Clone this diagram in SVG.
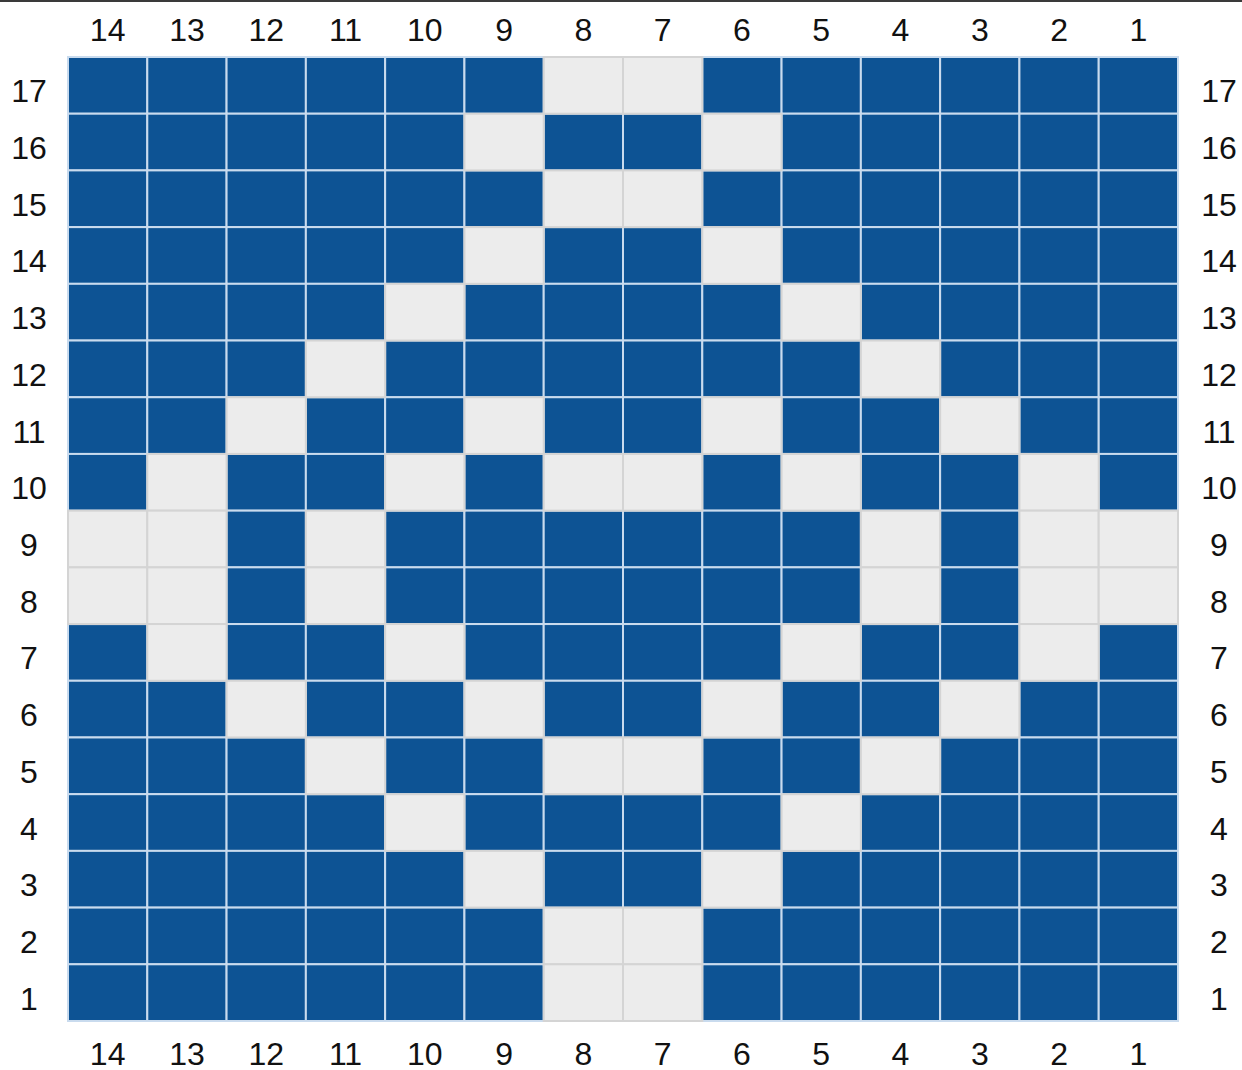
<svg xmlns="http://www.w3.org/2000/svg" xmlns:xlink="http://www.w3.org/1999/xlink" width="1242" height="1070" viewBox="0 0 1242 1070">
<style>
.b{fill:#0d5394;stroke:#c9dbee;stroke-width:2}
.l{fill:#ececec;stroke:#d4d4d4;stroke-width:2}
text{font-family:"Liberation Sans",Arial,Helvetica,sans-serif;font-size:32px;fill:#111;text-anchor:middle}
</style>
<defs>
<rect id="B" class="b" width="79.29" height="56.71"/>
<rect id="L" class="l" width="79.29" height="56.71"/>
</defs>
<rect x="0" y="0" width="1242" height="1070" fill="#ffffff"/>
<rect x="0" y="0" width="1242" height="2" fill="#3a3a3a"/>
<g id="grid">
<rect x="68" y="57" width="1110" height="964" fill="#0d5394"/>
<g id="blue-cells">
<g id="r17b" transform="translate(0,57)"><use href="#B" x="68"/><use href="#B" x="147.29"/><use href="#B" x="226.57"/><use href="#B" x="305.86"/><use href="#B" x="385.14"/><use href="#B" x="464.43"/><use href="#B" x="702.29"/><use href="#B" x="781.57"/><use href="#B" x="860.86"/><use href="#B" x="940.14"/><use href="#B" x="1019.43"/><use href="#B" x="1098.71"/></g>
<g id="r16b" transform="translate(0,113.71)"><use href="#B" x="68"/><use href="#B" x="147.29"/><use href="#B" x="226.57"/><use href="#B" x="305.86"/><use href="#B" x="385.14"/><use href="#B" x="543.71"/><use href="#B" x="623"/><use href="#B" x="781.57"/><use href="#B" x="860.86"/><use href="#B" x="940.14"/><use href="#B" x="1019.43"/><use href="#B" x="1098.71"/></g>
<g id="r15b" transform="translate(0,170.41)"><use href="#B" x="68"/><use href="#B" x="147.29"/><use href="#B" x="226.57"/><use href="#B" x="305.86"/><use href="#B" x="385.14"/><use href="#B" x="464.43"/><use href="#B" x="702.29"/><use href="#B" x="781.57"/><use href="#B" x="860.86"/><use href="#B" x="940.14"/><use href="#B" x="1019.43"/><use href="#B" x="1098.71"/></g>
<g id="r14b" transform="translate(0,227.12)"><use href="#B" x="68"/><use href="#B" x="147.29"/><use href="#B" x="226.57"/><use href="#B" x="305.86"/><use href="#B" x="385.14"/><use href="#B" x="543.71"/><use href="#B" x="623"/><use href="#B" x="781.57"/><use href="#B" x="860.86"/><use href="#B" x="940.14"/><use href="#B" x="1019.43"/><use href="#B" x="1098.71"/></g>
<g id="r13b" transform="translate(0,283.82)"><use href="#B" x="68"/><use href="#B" x="147.29"/><use href="#B" x="226.57"/><use href="#B" x="305.86"/><use href="#B" x="464.43"/><use href="#B" x="543.71"/><use href="#B" x="623"/><use href="#B" x="702.29"/><use href="#B" x="860.86"/><use href="#B" x="940.14"/><use href="#B" x="1019.43"/><use href="#B" x="1098.71"/></g>
<g id="r12b" transform="translate(0,340.53)"><use href="#B" x="68"/><use href="#B" x="147.29"/><use href="#B" x="226.57"/><use href="#B" x="385.14"/><use href="#B" x="464.43"/><use href="#B" x="543.71"/><use href="#B" x="623"/><use href="#B" x="702.29"/><use href="#B" x="781.57"/><use href="#B" x="940.14"/><use href="#B" x="1019.43"/><use href="#B" x="1098.71"/></g>
<g id="r11b" transform="translate(0,397.24)"><use href="#B" x="68"/><use href="#B" x="147.29"/><use href="#B" x="305.86"/><use href="#B" x="385.14"/><use href="#B" x="543.71"/><use href="#B" x="623"/><use href="#B" x="781.57"/><use href="#B" x="860.86"/><use href="#B" x="1019.43"/><use href="#B" x="1098.71"/></g>
<g id="r10b" transform="translate(0,453.94)"><use href="#B" x="68"/><use href="#B" x="226.57"/><use href="#B" x="305.86"/><use href="#B" x="464.43"/><use href="#B" x="702.29"/><use href="#B" x="860.86"/><use href="#B" x="940.14"/><use href="#B" x="1098.71"/></g>
<g id="r9b" transform="translate(0,510.65)"><use href="#B" x="226.57"/><use href="#B" x="385.14"/><use href="#B" x="464.43"/><use href="#B" x="543.71"/><use href="#B" x="623"/><use href="#B" x="702.29"/><use href="#B" x="781.57"/><use href="#B" x="940.14"/></g>
<g id="r8b" transform="translate(0,567.35)"><use href="#B" x="226.57"/><use href="#B" x="385.14"/><use href="#B" x="464.43"/><use href="#B" x="543.71"/><use href="#B" x="623"/><use href="#B" x="702.29"/><use href="#B" x="781.57"/><use href="#B" x="940.14"/></g>
<g id="r7b" transform="translate(0,624.06)"><use href="#B" x="68"/><use href="#B" x="226.57"/><use href="#B" x="305.86"/><use href="#B" x="464.43"/><use href="#B" x="543.71"/><use href="#B" x="623"/><use href="#B" x="702.29"/><use href="#B" x="860.86"/><use href="#B" x="940.14"/><use href="#B" x="1098.71"/></g>
<g id="r6b" transform="translate(0,680.76)"><use href="#B" x="68"/><use href="#B" x="147.29"/><use href="#B" x="305.86"/><use href="#B" x="385.14"/><use href="#B" x="543.71"/><use href="#B" x="623"/><use href="#B" x="781.57"/><use href="#B" x="860.86"/><use href="#B" x="1019.43"/><use href="#B" x="1098.71"/></g>
<g id="r5b" transform="translate(0,737.47)"><use href="#B" x="68"/><use href="#B" x="147.29"/><use href="#B" x="226.57"/><use href="#B" x="385.14"/><use href="#B" x="464.43"/><use href="#B" x="702.29"/><use href="#B" x="781.57"/><use href="#B" x="940.14"/><use href="#B" x="1019.43"/><use href="#B" x="1098.71"/></g>
<g id="r4b" transform="translate(0,794.18)"><use href="#B" x="68"/><use href="#B" x="147.29"/><use href="#B" x="226.57"/><use href="#B" x="305.86"/><use href="#B" x="464.43"/><use href="#B" x="543.71"/><use href="#B" x="623"/><use href="#B" x="702.29"/><use href="#B" x="860.86"/><use href="#B" x="940.14"/><use href="#B" x="1019.43"/><use href="#B" x="1098.71"/></g>
<g id="r3b" transform="translate(0,850.88)"><use href="#B" x="68"/><use href="#B" x="147.29"/><use href="#B" x="226.57"/><use href="#B" x="305.86"/><use href="#B" x="385.14"/><use href="#B" x="543.71"/><use href="#B" x="623"/><use href="#B" x="781.57"/><use href="#B" x="860.86"/><use href="#B" x="940.14"/><use href="#B" x="1019.43"/><use href="#B" x="1098.71"/></g>
<g id="r2b" transform="translate(0,907.59)"><use href="#B" x="68"/><use href="#B" x="147.29"/><use href="#B" x="226.57"/><use href="#B" x="305.86"/><use href="#B" x="385.14"/><use href="#B" x="464.43"/><use href="#B" x="702.29"/><use href="#B" x="781.57"/><use href="#B" x="860.86"/><use href="#B" x="940.14"/><use href="#B" x="1019.43"/><use href="#B" x="1098.71"/></g>
<g id="r1b" transform="translate(0,964.29)"><use href="#B" x="68"/><use href="#B" x="147.29"/><use href="#B" x="226.57"/><use href="#B" x="305.86"/><use href="#B" x="385.14"/><use href="#B" x="464.43"/><use href="#B" x="702.29"/><use href="#B" x="781.57"/><use href="#B" x="860.86"/><use href="#B" x="940.14"/><use href="#B" x="1019.43"/><use href="#B" x="1098.71"/></g>
</g>
<g id="light-cells">
<g id="r17l" transform="translate(0,57)"><use href="#L" x="543.71"/><use href="#L" x="623"/></g>
<g id="r16l" transform="translate(0,113.71)"><use href="#L" x="464.43"/><use href="#L" x="702.29"/></g>
<g id="r15l" transform="translate(0,170.41)"><use href="#L" x="543.71"/><use href="#L" x="623"/></g>
<g id="r14l" transform="translate(0,227.12)"><use href="#L" x="464.43"/><use href="#L" x="702.29"/></g>
<g id="r13l" transform="translate(0,283.82)"><use href="#L" x="385.14"/><use href="#L" x="781.57"/></g>
<g id="r12l" transform="translate(0,340.53)"><use href="#L" x="305.86"/><use href="#L" x="860.86"/></g>
<g id="r11l" transform="translate(0,397.24)"><use href="#L" x="226.57"/><use href="#L" x="464.43"/><use href="#L" x="702.29"/><use href="#L" x="940.14"/></g>
<g id="r10l" transform="translate(0,453.94)"><use href="#L" x="147.29"/><use href="#L" x="385.14"/><use href="#L" x="543.71"/><use href="#L" x="623"/><use href="#L" x="781.57"/><use href="#L" x="1019.43"/></g>
<g id="r9l" transform="translate(0,510.65)"><use href="#L" x="68"/><use href="#L" x="147.29"/><use href="#L" x="305.86"/><use href="#L" x="860.86"/><use href="#L" x="1019.43"/><use href="#L" x="1098.71"/></g>
<g id="r8l" transform="translate(0,567.35)"><use href="#L" x="68"/><use href="#L" x="147.29"/><use href="#L" x="305.86"/><use href="#L" x="860.86"/><use href="#L" x="1019.43"/><use href="#L" x="1098.71"/></g>
<g id="r7l" transform="translate(0,624.06)"><use href="#L" x="147.29"/><use href="#L" x="385.14"/><use href="#L" x="781.57"/><use href="#L" x="1019.43"/></g>
<g id="r6l" transform="translate(0,680.76)"><use href="#L" x="226.57"/><use href="#L" x="464.43"/><use href="#L" x="702.29"/><use href="#L" x="940.14"/></g>
<g id="r5l" transform="translate(0,737.47)"><use href="#L" x="305.86"/><use href="#L" x="543.71"/><use href="#L" x="623"/><use href="#L" x="860.86"/></g>
<g id="r4l" transform="translate(0,794.18)"><use href="#L" x="385.14"/><use href="#L" x="781.57"/></g>
<g id="r3l" transform="translate(0,850.88)"><use href="#L" x="464.43"/><use href="#L" x="702.29"/></g>
<g id="r2l" transform="translate(0,907.59)"><use href="#L" x="543.71"/><use href="#L" x="623"/></g>
<g id="r1l" transform="translate(0,964.29)"><use href="#L" x="543.71"/><use href="#L" x="623"/></g>
</g>
</g>
<g id="top-labels">
<text x="107.64" y="41">14</text><text x="186.93" y="41">13</text><text x="266.21" y="41">12</text><text x="345.5" y="41">11</text><text x="424.79" y="41">10</text><text x="504.07" y="41">9</text><text x="583.36" y="41">8</text><text x="662.64" y="41">7</text><text x="741.93" y="41">6</text><text x="821.21" y="41">5</text><text x="900.5" y="41">4</text><text x="979.79" y="41">3</text><text x="1059.07" y="41">2</text><text x="1138.36" y="41">1</text>
</g>
<g id="bottom-labels">
<text x="107.64" y="1065">14</text><text x="186.93" y="1065">13</text><text x="266.21" y="1065">12</text><text x="345.5" y="1065">11</text><text x="424.79" y="1065">10</text><text x="504.07" y="1065">9</text><text x="583.36" y="1065">8</text><text x="662.64" y="1065">7</text><text x="741.93" y="1065">6</text><text x="821.21" y="1065">5</text><text x="900.5" y="1065">4</text><text x="979.79" y="1065">3</text><text x="1059.07" y="1065">2</text><text x="1138.36" y="1065">1</text>
</g>
<g id="left-labels">
<text x="29" y="102.35">17</text><text x="29" y="159.06">16</text><text x="29" y="215.76">15</text><text x="29" y="272.47">14</text><text x="29" y="329.18">13</text><text x="29" y="385.88">12</text><text x="29" y="442.59">11</text><text x="29" y="499.29">10</text><text x="29" y="556">9</text><text x="29" y="612.71">8</text><text x="29" y="669.41">7</text><text x="29" y="726.12">6</text><text x="29" y="782.82">5</text><text x="29" y="839.53">4</text><text x="29" y="896.24">3</text><text x="29" y="952.94">2</text><text x="29" y="1009.65">1</text>
</g>
<g id="right-labels">
<text x="1219" y="102.35">17</text><text x="1219" y="159.06">16</text><text x="1219" y="215.76">15</text><text x="1219" y="272.47">14</text><text x="1219" y="329.18">13</text><text x="1219" y="385.88">12</text><text x="1219" y="442.59">11</text><text x="1219" y="499.29">10</text><text x="1219" y="556">9</text><text x="1219" y="612.71">8</text><text x="1219" y="669.41">7</text><text x="1219" y="726.12">6</text><text x="1219" y="782.82">5</text><text x="1219" y="839.53">4</text><text x="1219" y="896.24">3</text><text x="1219" y="952.94">2</text><text x="1219" y="1009.65">1</text>
</g>
</svg>
